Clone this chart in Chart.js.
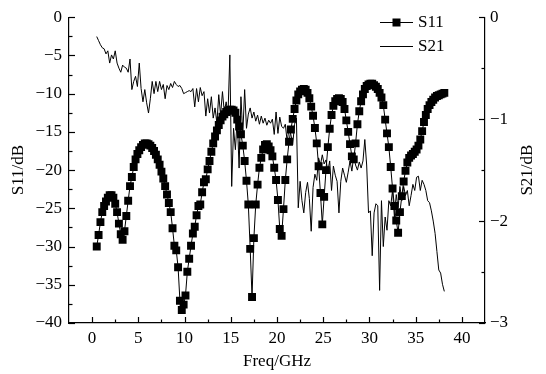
<!DOCTYPE html>
<html>
<head>
<meta charset="utf-8">
<script src="https://cdn.jsdelivr.net/npm/chart.js@4.4.0/dist/chart.umd.min.js"></script>
<style>
  html, body { margin: 0; padding: 0; background: #fff; }
  canvas { display: block; }
</style>
</head>
<body>
<canvas id="chart" width="546" height="374"></canvas>
<script>
// sweep frequencies (GHz)
const freq = [
  0.5, 0.7, 0.9, 1.1, 1.3, 1.5, 1.7, 1.9, 2.1, 2.3,
  2.5, 2.7, 2.9, 3.1, 3.3, 3.5, 3.7, 3.9, 4.1, 4.3,
  4.5, 4.7, 4.9, 5.1, 5.3, 5.5, 5.7, 5.9, 6.1, 6.3,
  6.5, 6.7, 6.9, 7.1, 7.3, 7.5, 7.7, 7.9, 8.1, 8.3,
  8.5, 8.7, 8.9, 9.1, 9.3, 9.5, 9.7, 9.9, 10.1, 10.3,
  10.5, 10.7, 10.9, 11.1, 11.3, 11.5, 11.7, 11.9, 12.1, 12.3,
  12.5, 12.7, 12.9, 13.1, 13.3, 13.5, 13.7, 13.9, 14.1, 14.3,
  14.5, 14.7, 14.9, 15.1, 15.3, 15.5, 15.7, 15.9, 16.1, 16.3,
  16.5, 16.7, 16.9, 17.1, 17.3, 17.5, 17.7, 17.9, 18.1, 18.3,
  18.5, 18.7, 18.9, 19.1, 19.3, 19.5, 19.7, 19.9, 20.1, 20.3,
  20.5, 20.7, 20.9, 21.1, 21.3, 21.5, 21.7, 21.9, 22.1, 22.3,
  22.5, 22.7, 22.9, 23.1, 23.3, 23.5, 23.7, 23.9, 24.1, 24.3,
  24.5, 24.7, 24.9, 25.1, 25.3, 25.5, 25.7, 25.9, 26.1, 26.3,
  26.5, 26.7, 26.9, 27.1, 27.3, 27.5, 27.7, 27.9, 28.1, 28.3,
  28.5, 28.7, 28.9, 29.1, 29.3, 29.5, 29.7, 29.9, 30.1, 30.3,
  30.5, 30.7, 30.9, 31.1, 31.3, 31.5, 31.7, 31.9, 32.1, 32.3,
  32.5, 32.7, 32.9, 33.1, 33.3, 33.5, 33.7, 33.9, 34.1, 34.3,
  34.5, 34.7, 34.9, 35.1, 35.3, 35.5, 35.7, 35.9, 36.1, 36.3,
  36.5, 36.7, 36.9, 37.1, 37.3, 37.5, 37.7, 37.9, 38.1
];

// S11 (dB), left axis
const s11 = [
  -30.0, -28.5, -26.8, -25.5, -24.7, -24.1, -23.6, -23.3, -23.3, -23.6,
  -24.4, -25.5, -27.0, -28.4, -29.1, -28.0, -26.0, -24.0, -22.1, -20.9,
  -19.6, -18.6, -17.9, -17.4, -17.0, -16.7, -16.5, -16.5, -16.6, -16.8,
  -17.1, -17.5, -18.0, -18.6, -19.3, -20.2, -21.1, -22.1, -23.2, -24.3,
  -25.5, -27.6, -29.9, -30.5, -32.7, -37.1, -38.3, -37.6, -36.4, -33.3,
  -31.6, -29.9, -28.3, -27.4, -25.9, -24.7, -24.5, -22.9, -21.6, -21.2,
  -19.9, -18.8, -17.6, -16.5, -15.6, -14.8, -14.1, -13.5, -13.0, -12.7,
  -12.4, -12.2, -12.1, -12.1, -12.2, -12.5, -13.4, -14.3, -15.3, -16.8,
  -18.8, -21.4, -24.5, -30.3, -36.6, -28.9, -24.5, -21.9, -19.7, -18.4,
  -17.3, -16.7, -16.6, -16.9, -17.4, -18.2, -19.7, -21.3, -23.9, -27.7,
  -28.6, -25.1, -21.3, -18.6, -16.3, -14.7, -13.3, -12.0, -10.9, -10.1,
  -9.7, -9.5, -9.4, -9.5, -9.9, -10.6, -11.7, -12.9, -14.5, -16.5,
  -19.5, -23.0, -27.1, -23.5, -20.0, -17.0, -14.6, -12.8, -11.6, -11.0,
  -10.7, -10.6, -10.7, -11.1, -12.0, -13.5, -15.0, -16.6, -18.2, -18.6,
  -16.5, -14.0, -12.3, -11.0, -10.1, -9.4, -9.0, -8.8, -8.7, -8.7,
  -8.9, -9.1, -9.4, -9.9, -10.5, -11.5, -13.4, -15.2, -17.0, -19.6,
  -22.4, -24.7, -26.6, -28.2, -25.5, -23.4, -21.5, -20.1, -19.0, -18.4,
  -18.1, -17.9, -17.6, -17.3, -16.8, -16.0, -14.9, -13.7, -12.8, -12.0,
  -11.5, -11.1, -10.8, -10.5, -10.3, -10.2, -10.1, -10.0, -9.9
];

// S21 (dB), right axis
const s21 = [
  -0.19, -0.23, -0.27, -0.30, -0.31, -0.36, -0.33, -0.45, -0.37, -0.41,
  -0.33, -0.45, -0.50, -0.54, -0.47, -0.49, -0.50, -0.54, -0.41, -0.71,
  -0.63, -0.58, -0.68, -0.45, -0.70, -0.83, -0.71, -0.84, -0.94, -0.80,
  -0.63, -0.75, -0.63, -0.73, -0.63, -0.71, -0.66, -0.80, -0.67, -0.71,
  -0.65, -0.69, -0.63, -0.66, -0.68, -0.67, -0.70, -0.75, -0.74, -0.73,
  -0.72, -0.73, -0.70, -0.88, -0.70, -0.83, -0.69, -0.77, -0.73, -0.97,
  -0.80, -0.94, -0.78, -0.99, -0.89, -1.04, -0.76, -0.96, -0.73, -0.93,
  -0.83, -0.95, -0.37, -1.66, -1.09, -1.30, -0.99, -1.48, -0.78, -1.15,
  -0.71, -1.09, -0.95, -0.89, -0.99, -0.93, -1.02, -0.96, -1.05, -0.97,
  -1.04, -0.99, -1.06, -1.01, -1.04, -1.00, -1.15, -0.93, -1.14, -0.98,
  -1.07, -1.09, -1.05, -1.22, -1.09, -1.15, -1.25, -1.05, -0.99, -1.87,
  -1.61, -1.80, -1.92, -1.72, -1.62, -1.78, -2.10, -1.67, -1.54, -1.60,
  -1.38, -1.45, -1.35, -1.44, -1.40, -1.51, -1.41, -1.70, -1.46, -1.55,
  -1.61, -1.92, -1.61, -1.48, -1.55, -1.62, -1.52, -1.41, -1.51, -1.36,
  -1.45, -1.50, -1.42, -1.48, -1.41, -1.20, -1.45, -1.92, -1.90, -2.34,
  -1.92, -1.83, -1.85, -2.68, -1.80, -2.25, -1.96, -2.09, -1.80, -1.85,
  -1.70, -1.96, -1.74, -1.87, -1.66, -1.80, -1.66, -1.75, -1.70, -1.85,
  -1.75, -1.64, -1.70, -1.57, -1.56, -1.70, -1.60, -1.64, -1.70, -1.80,
  -1.82, -1.90, -2.00, -2.12, -2.30, -2.48, -2.51, -2.62, -2.69
];

// axis ticks
const xTicks = [0, 5, 10, 15, 20, 25, 30, 35, 40];
const xMinor = [2.5, 7.5, 12.5, 17.5, 22.5, 27.5, 32.5, 37.5];
const s11Ticks = [0, -5, -10, -15, -20, -25, -30, -35, -40];
const s11Minor = [-2.5, -7.5, -12.5, -17.5, -22.5, -27.5, -32.5, -37.5];
const s21Ticks = [0, -1, -2, -3];
const s21Minor = [-0.5, -1.5, -2.5];

const FONT_FAMILY = '"Liberation Serif", "Times New Roman", serif';
const FONT = '17px ' + FONT_FAMILY;
const INK = '#000';

const minus = v => String(v).replace('-', '\u2212');
const tickFont = { family: FONT_FAMILY, size: 17 };

// inward tick marks, axis titles and legend
const decorations = {
  id: 'decorations',
  afterDraw(chart) {
    const { ctx, chartArea: a, scales } = chart;
    ctx.save();
    ctx.strokeStyle = INK;
    ctx.lineWidth = 1.2;

    const hTicks = (vals, len) => vals.forEach(v => {
      const px = Math.round(scales.x.getPixelForValue(v)) + 0.5;
      ctx.beginPath(); ctx.moveTo(px, a.bottom); ctx.lineTo(px, a.bottom - len); ctx.stroke();
    });
    const vTicks = (scale, x0, dir, vals, len) => vals.forEach(v => {
      const py = Math.round(scale.getPixelForValue(v)) + 0.5;
      ctx.beginPath(); ctx.moveTo(x0, py); ctx.lineTo(x0 + dir * len, py); ctx.stroke();
    });
    hTicks(xTicks, 6);
    hTicks(xMinor, 3.5);
    vTicks(scales.y, a.left, 1, s11Ticks, 6);
    vTicks(scales.y, a.left, 1, s11Minor, 3.5);
    vTicks(scales.y2, a.right, -1, s21Ticks, 6);
    vTicks(scales.y2, a.right, -1, s21Minor, 3.5);

    ctx.fillStyle = INK;
    ctx.font = FONT;
    ctx.textAlign = 'center';
    ctx.textBaseline = 'middle';
    const midY = (a.top + a.bottom) / 2;
    ctx.fillText('Freq/GHz', (a.left + a.right) / 2, 362);
    [[19, 'S11/dB'], [528, 'S21/dB']].forEach(([x, t]) => {
      ctx.save();
      ctx.translate(x, midY);
      ctx.rotate(-Math.PI / 2);
      ctx.fillText(t, 0, 0);
      ctx.restore();
    });

    // legend
    ctx.textAlign = 'left';
    chart.data.datasets.forEach((ds, i) => {
      const y = 22 + i * 24;
      ctx.lineWidth = 1;
      ctx.beginPath(); ctx.moveTo(380, y + 0.5); ctx.lineTo(413, y + 0.5); ctx.stroke();
      if (ds.pointRadius > 0) ctx.fillRect(392.5, y - 3.5, 8, 8);
      ctx.fillText(ds.label, 418, y + 1);
    });
    ctx.restore();
  }
};

new Chart(document.getElementById('chart'), {
  type: 'scatter',
  data: {
    datasets: [
      {
        label: 'S11',
        data: freq.map((f, i) => ({ x: f, y: s11[i] })),
        yAxisID: 'y',
        showLine: true,
        borderColor: INK,
        borderWidth: 1,
        pointStyle: 'rect',
        pointRadius: 5.6,
        pointBackgroundColor: INK,
        pointBorderWidth: 0,
        order: 2
      },
      {
        label: 'S21',
        data: freq.map((f, i) => ({ x: f, y: s21[i] })),
        yAxisID: 'y2',
        showLine: true,
        borderColor: INK,
        borderWidth: 1,
        pointRadius: 0,
        order: 1
      }
    ]
  },
  options: {
    responsive: false,
    animation: false,
    devicePixelRatio: 1,
    layout: { padding: { top: 15, left: 0, right: 0, bottom: 0 } },
    plugins: { legend: { display: false }, tooltip: { enabled: false } },
    scales: {
      x: {
        type: 'linear',
        min: -2.5, max: 42.5,
        afterBuildTicks: s => { s.ticks = xTicks.map(v => ({ value: v })); },
        afterFit: s => { s.height = 51; },
        ticks: { color: INK, font: tickFont, padding: 5, maxRotation: 0, callback: minus },
        grid: { display: false, drawTicks: false },
        border: { display: true, color: INK, width: 1.2 }
      },
      y: {
        type: 'linear',
        position: 'left',
        min: -40, max: 0,
        afterBuildTicks: s => { s.ticks = s11Ticks.map(v => ({ value: v })); },
        afterFit: s => { s.width = 69; },
        ticks: { color: INK, font: tickFont, padding: 7, callback: minus },
        grid: { display: false, drawTicks: false },
        border: { display: true, color: INK, width: 1.2 }
      },
      y2: {
        type: 'linear',
        position: 'right',
        min: -3, max: 0,
        afterBuildTicks: s => { s.ticks = s21Ticks.map(v => ({ value: v })); },
        afterFit: s => { s.width = 61; },
        ticks: { color: INK, font: tickFont, padding: 5, callback: minus },
        grid: { display: false, drawTicks: false },
        border: { display: true, color: INK, width: 1.2 }
      }
    }
  },
  plugins: [decorations]
});
</script>
</body>
</html>
